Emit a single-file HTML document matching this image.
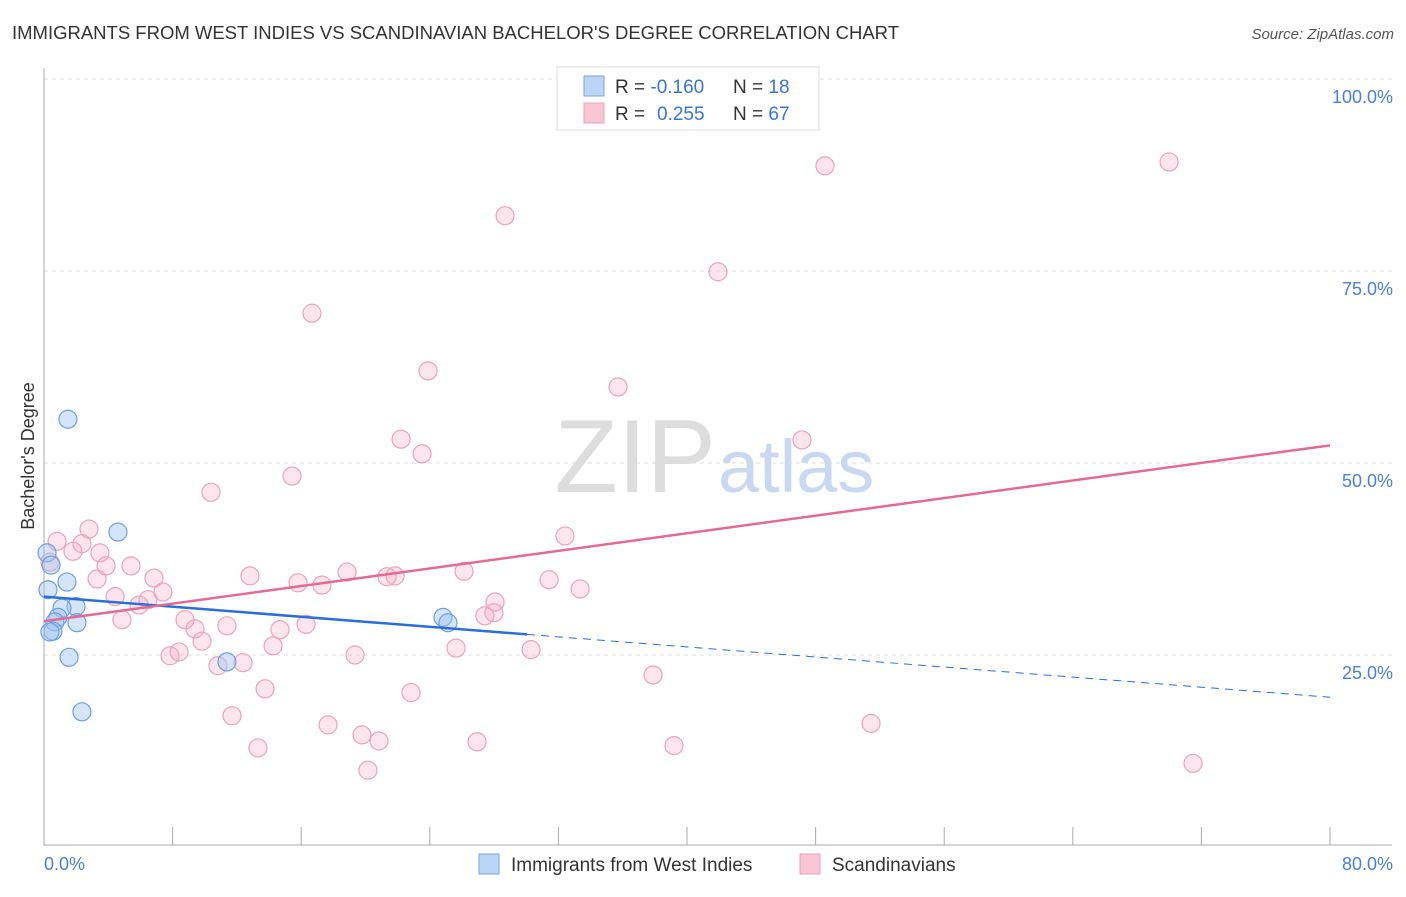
<!DOCTYPE html>
<html><head><meta charset="utf-8"><style>
body{margin:0;background:#fff;font-family:"Liberation Sans",sans-serif}
svg text{font-family:"Liberation Sans",sans-serif}
</style></head><body>
<svg id="c" width="1406" height="892">
<text x="12" y="39" font-size="18.5" fill="#333" textLength="887">IMMIGRANTS FROM WEST INDIES VS SCANDINAVIAN BACHELOR'S DEGREE CORRELATION CHART</text>
<text x="1394" y="39" font-size="15" fill="#555" text-anchor="end" font-style="italic">Source: ZipAtlas.com</text>
<text x="716" y="492" font-size="104" fill="#ddd" text-anchor="end" font-family="Liberation Serif">ZIP</text>
<text x="718" y="492" font-size="74" fill="#c8d8f0">atlas</text>
<g id="grid"></g><g id="pts"></g><g id="lines"></g>
<text transform="translate(34,456) rotate(-90)" font-size="18" fill="#333" text-anchor="middle">Bachelor's Degree</text>
<text x="44" y="870" font-size="18" fill="#4a7fd0">0.0%</text>
<text x="1393" y="870" font-size="18" fill="#4a7fd0" text-anchor="end">80.0%</text>
<g>
<rect x="557" y="67" width="262" height="63" fill="#fff" stroke="#ddd"/>
<rect x="584" y="76" width="20" height="20" fill="#bcd4f6" stroke="#7aa6e6"/>
<rect x="584" y="103" width="20" height="20" fill="#f9c6d6" stroke="#eba3ba"/>
<text x="615" y="93" font-size="19" fill="#333">R = <tspan fill="#3a74d0">-0.160</tspan><tspan x="733">N = </tspan><tspan fill="#3a74d0">18</tspan></text>
<text x="615" y="120" font-size="19" fill="#333">R = <tspan x="657" fill="#3a74d0">0.255</tspan><tspan x="733">N = </tspan><tspan fill="#3a74d0">67</tspan></text>
</g>
<g>
<rect x="479" y="854" width="20" height="20" fill="#bcd4f6" stroke="#7aa6e6"/>
<text x="511" y="871" font-size="19" fill="#333">Immigrants from West Indies</text>
<rect x="800" y="854" width="20" height="20" fill="#f9c6d6" stroke="#eba3ba"/>
<text x="832" y="871" font-size="19" fill="#333">Scandinavians</text>
</g>
</svg>
<script>
const yTicks=[25,50,75,100];
const yTickLabels=["25.0%","50.0%","75.0%","100.0%"];
const xTicks=[0,8,16,24,32,40,48,56,64,72,80];
const blueX=[1.49,4.60,0.19,0.44,1.43,0.25,1.99,1.12,0.87,0.68,2.05,0.56,0.37,1.56,2.36,11.38,24.82,25.13];
const blueY=[55.7,41.0,38.3,36.7,34.5,33.5,31.3,31.1,29.9,29.3,29.2,28.1,28.0,24.7,17.6,24.1,29.9,29.2];
const pinkX=[0.81,2.80,2.36,1.80,3.48,0.37,3.30,3.86,5.41,4.42,4.85,5.91,6.84,6.47,7.40,8.77,9.39,9.83,7.84,8.40,10.39,10.82,11.38,11.70,12.38,12.81,13.31,13.75,14.25,14.68,15.43,15.80,16.30,16.67,17.29,17.67,18.85,19.35,19.78,20.15,20.84,21.34,21.84,22.21,22.83,23.52,23.89,25.63,26.13,26.94,27.43,27.99,28.06,28.68,30.30,31.42,32.41,33.35,35.71,37.89,39.19,41.93,47.15,48.58,51.45,69.99,71.48];
const pinkY=[39.8,41.4,39.5,38.5,38.3,37.1,34.9,36.6,36.6,32.6,29.6,31.5,35.0,32.2,33.2,29.6,28.4,26.8,24.9,25.4,46.2,23.6,28.8,17.1,24.0,35.3,12.9,20.6,26.2,28.3,48.3,34.4,29.0,69.5,34.1,15.9,35.8,25.0,14.6,10.0,13.8,35.2,35.3,53.1,20.1,51.2,62.0,25.9,35.9,13.7,30.1,30.5,31.9,82.2,25.7,34.8,40.5,33.6,59.9,22.4,13.2,74.9,53.0,88.7,16.1,89.2,10.9];
const blueTrend=[32.6,19.5]; const blueSolidEnd=30.05;
const pinkTrend=[29.4,52.3];
const NS="http://www.w3.org/2000/svg";
const X=v=>44+v/80*1286, Y=v=>847-v*7.68;
function mk(t,a,p){const e=document.createElementNS(NS,t);for(const k in a)e.setAttribute(k,a[k]);p.appendChild(e);return e;}
const g=document.getElementById('grid');
yTicks.forEach((t,i)=>{
 const l=mk('line',{x1:44,x2:1392,y1:Y(t),y2:Y(t),stroke:'#ddd','stroke-dasharray':'4,4'},g);
 
 
 const tx=mk('text',{x:1393,y:Y(t)+24,'font-size':18,fill:'#4a7fd0','text-anchor':'end'},g);
 tx.textContent=yTickLabels[i];
 
 
});
const ax=mk('line',{x1:44,x2:44,y1:68,y2:846,stroke:'#aaa'},g);


const bx=mk('line',{x1:44,x2:1392,y1:845,y2:845,stroke:'#aaa'},g);


xTicks.forEach(t=>{const l=mk('line',{x1:X(t),x2:X(t),y1:827,y2:845,stroke:'#aaa'},g);
 
 });
const p=document.getElementById('pts');
pinkX.forEach((x,i)=>{const c=mk('circle',{cx:X(x),cy:Y(pinkY[i]),r:9,fill:'rgba(246,170,196,0.3)',stroke:'#eba3ba','stroke-width':1.2},p);
 
 });
blueX.forEach((x,i)=>{const c=mk('circle',{cx:X(x),cy:Y(blueY[i]),r:9,fill:'rgba(160,196,242,0.45)',stroke:'#6f9fe0','stroke-width':1.2},p);
 
 });
const L=document.getElementById('lines');
const by=x=>blueTrend[0]+(blueTrend[1]-blueTrend[0])*x/80;
let l1=mk('line',{x1:X(0),y1:Y(by(0)),x2:X(blueSolidEnd),y2:Y(by(blueSolidEnd)),stroke:'#2a6fd6','stroke-width':2.5},L);


let l2=mk('line',{x1:X(blueSolidEnd),y1:Y(by(blueSolidEnd)),x2:X(80),y2:Y(by(80)),stroke:'#2a6fd6','stroke-width':1,'stroke-dasharray':'8,6'},L);


let l3=mk('line',{x1:X(0),y1:Y(pinkTrend[0]),x2:X(80),y2:Y(pinkTrend[1]),stroke:'#e46a96','stroke-width':2.5},L);


</script>
</body></html>
